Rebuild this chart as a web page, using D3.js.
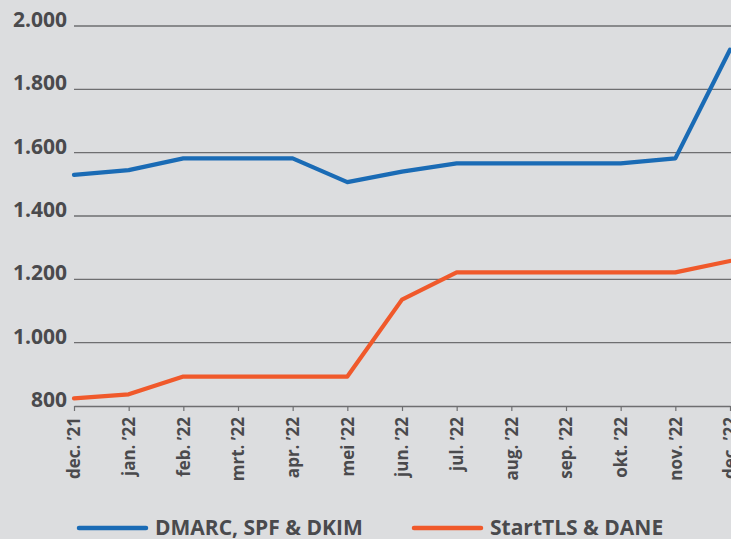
<!doctype html>
<html>
<head>
<meta charset="utf-8">
<script src="https://d3js.org/d3.v7.min.js"></script>
<style>
  body { margin: 0; background: #dcdddf; }
  svg { display: block; }
  text { font-family: "Open Sans", sans-serif; font-weight: 700; fill: #4a4a4d; }
</style>
</head>
<body>
<svg width="731" height="539"></svg>
<script>
// months on the x axis
var months = ["dec. \u201921", "jan. \u201922", "feb. \u201922", "mrt. \u201922", "apr. \u201922", "mei \u201922",
              "jun. \u201922", "jul. \u201922", "aug. \u201922", "sep. \u201922", "okt. \u201922", "nov. \u201922", "dec. \u201922"];
var dmarc = [1530, 1545, 1582, 1582, 1582, 1507, 1540, 1566, 1566, 1566, 1566, 1582, 1925];
var starttls = [824, 837, 893, 893, 893, 893, 1136, 1222, 1222, 1222, 1222, 1222, 1258];
var yTicks = [800, 1000, 1200, 1400, 1600, 1800, 2000];
var seriesNames = ["DMARC, SPF & DKIM", "StartTLS & DANE"];
var colors = ["#1a6bb5", "#f0592b"];

var svg = d3.select("svg");
var mLeft = 74, mRight = 731, mTop = 26, mBottom = 406;

var x = d3.scalePoint().domain(months).range([mLeft, mRight - 1]);
var y = d3.scaleLinear().domain([800, 2000]).range([mBottom, mTop]);

var fmt = function(d) { return d3.format(",")(d).replace(",", "."); };

// gridlines + y labels
var gy = svg.append("g");
gy.selectAll("line")
  .data(yTicks.filter(function(d) { return d > 800; }))
  .enter().append("line")
  .attr("x1", mLeft).attr("x2", mRight)
  .attr("y1", function(d) { return y(d); })
  .attr("y2", function(d) { return y(d); })
  .attr("stroke", "#6e6e70")
  .attr("stroke-width", 1.4);
gy.selectAll("text")
  .data(yTicks)
  .enter().append("text")
  .attr("x", 67)
  .attr("y", function(d) { return y(d); })
  .attr("dy", "0.04em")
  .attr("text-anchor", "end")
  .attr("font-size", "21px")
  .text(fmt);

// x axis
var xa = svg.append("g")
  .attr("transform", "translate(0," + mBottom + ")")
  .call(d3.axisBottom(x).tickSize(5).tickSizeOuter(0));
xa.select(".domain").attr("stroke", "#6e6e70").attr("stroke-width", 1.4);
xa.selectAll(".tick line").attr("stroke", "#6e6e70").attr("stroke-width", 1.2);
xa.selectAll(".tick text")
  .attr("transform", "rotate(-90)")
  .attr("x", -11).attr("y", 0).attr("dy", "0.35em")
  .attr("text-anchor", "end")
  .attr("font-size", "17px")
  .attr("font-family", "Open Sans, sans-serif")
  .attr("fill", "#4a4a4d");

// lines
var line = d3.line()
  .x(function(d, i) { return x(months[i]); })
  .y(function(d) { return y(d); });

[dmarc, starttls].forEach(function(s, i) {
  svg.append("path")
    .datum(s)
    .attr("fill", "none")
    .attr("stroke", colors[i])
    .attr("stroke-width", 4.2)
    .attr("stroke-linejoin", "round")
    .attr("stroke-linecap", "round")
    .attr("d", line);
});

// legend
var legX = [79, 414];
seriesNames.forEach(function(n, i) {
  svg.append("line")
    .attr("x1", legX[i]).attr("x2", legX[i] + 67)
    .attr("y1", 528).attr("y2", 528)
    .attr("stroke", colors[i])
    .attr("stroke-width", 4.5)
    .attr("stroke-linecap", "round");
  svg.append("text")
    .attr("x", legX[i] + 76)
    .attr("y", 535)
    .attr("font-size", "21px")
    .text(n);
});
</script>
</body>
</html>
